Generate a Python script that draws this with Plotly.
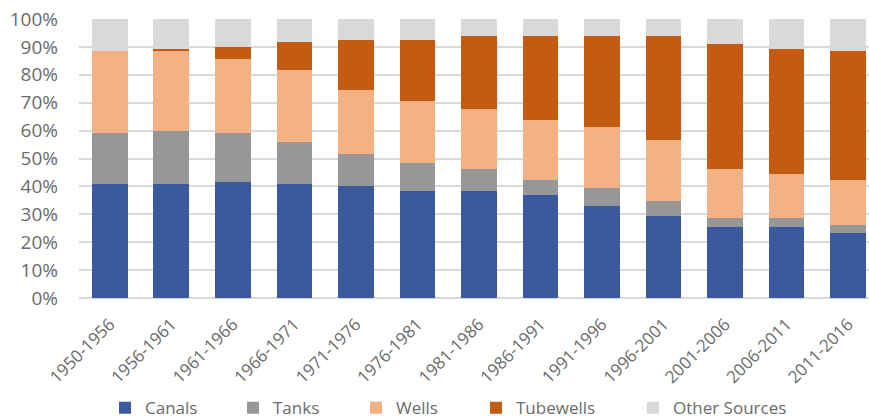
import plotly.graph_objects as go

periods = ["1950-1956", "1956-1961", "1961-1966", "1966-1971", "1971-1976", "1976-1981", "1981-1986",
           "1986-1991", "1991-1996", "1996-2001", "2001-2006", "2006-2011", "2011-2016"]

canals = [40.9, 40.9, 41.6, 40.9, 40.1, 38.4, 38.4, 37.0, 33.0, 29.4, 25.5, 25.5, 23.3]
tanks = [18.1, 18.9, 17.4, 15.0, 11.4, 10.0, 7.8, 5.3, 6.3, 5.3, 3.1, 3.1, 2.9]
wells = [29.6, 28.8, 26.6, 25.9, 22.9, 22.2, 21.4, 21.5, 22.1, 22.1, 17.6, 16.0, 16.1]
tubewells = [0.0, 0.7, 4.5, 9.9, 18.1, 21.9, 26.4, 30.2, 32.6, 37.2, 44.7, 44.7, 46.3]
other = [11.4, 10.7, 9.9, 8.3, 7.5, 7.5, 6.0, 6.0, 6.0, 6.0, 9.1, 10.7, 11.4]

series = [
    ("Canals", canals, "#3A5A9F"),
    ("Tanks", tanks, "#979797"),
    ("Wells", wells, "#F4B183"),
    ("Tubewells", tubewells, "#C55A11"),
    ("Other Sources", other, "#D9D9D9"),
]

font_family = "Open Sans, Noto Sans, sans-serif"
grey_text = "#6B6B6B"

# one legend per series so the entries can be spaced like the original (pixel x of each entry)
legend_px = [105, 233, 356, 476, 633]
plot_left, plot_width = 79, 790
legend_ids = ["legend", "legend2", "legend3", "legend4", "legend5"]

fig = go.Figure(
    data=[
        go.Bar(x=periods, y=vals, name=name, legend=legend_ids[i],
               marker=dict(color=color, line=dict(width=0)))
        for i, (name, vals, color) in enumerate(series)
    ],
    layout=go.Layout(
        width=869,
        height=420,
        showlegend=True,
        barmode="stack",
        barnorm="percent",
        bargap=0.42,
        paper_bgcolor="white",
        plot_bgcolor="white",
        margin=dict(l=79, r=0, t=19, b=122, autoexpand=False),
        font=dict(family=font_family, color=grey_text),
        xaxis=dict(
            range=[-0.5, 12.34],
            tickangle=-45,
            tickfont=dict(size=17, color=grey_text),
            showgrid=False,
            showline=False,
            ticks="",
            ticklabelstandoff=12,
            automargin=False,
        ),
        yaxis=dict(
            range=[0, 100],
            dtick=10,
            ticksuffix="%",
            tickfont=dict(size=19, color=grey_text),
            showgrid=True,
            gridcolor="#D9D9D9",
            gridwidth=1.5,
            zeroline=True,
            zerolinecolor="#D9D9D9",
            zerolinewidth=1.5,
            showline=False,
            ticks="",
            ticklabelstandoff=20,
            automargin=False,
        ),
    ),
)

for lid, px in zip(legend_ids, legend_px):
    fig.update_layout({lid: dict(
        visible=True,
        orientation="h",
        x=(px - plot_left) / plot_width,
        xanchor="left",
        y=-0.395,
        yanchor="middle",
        font=dict(size=17, color=grey_text),
        bgcolor="rgba(0,0,0,0)",
        borderwidth=0,
    )})

# the page body has a default margin; drop it so the figure sits at the window's corner
fig.write_html("out.html", config={"displayModeBar": False},
               post_script="document.body.style.margin='0';")
